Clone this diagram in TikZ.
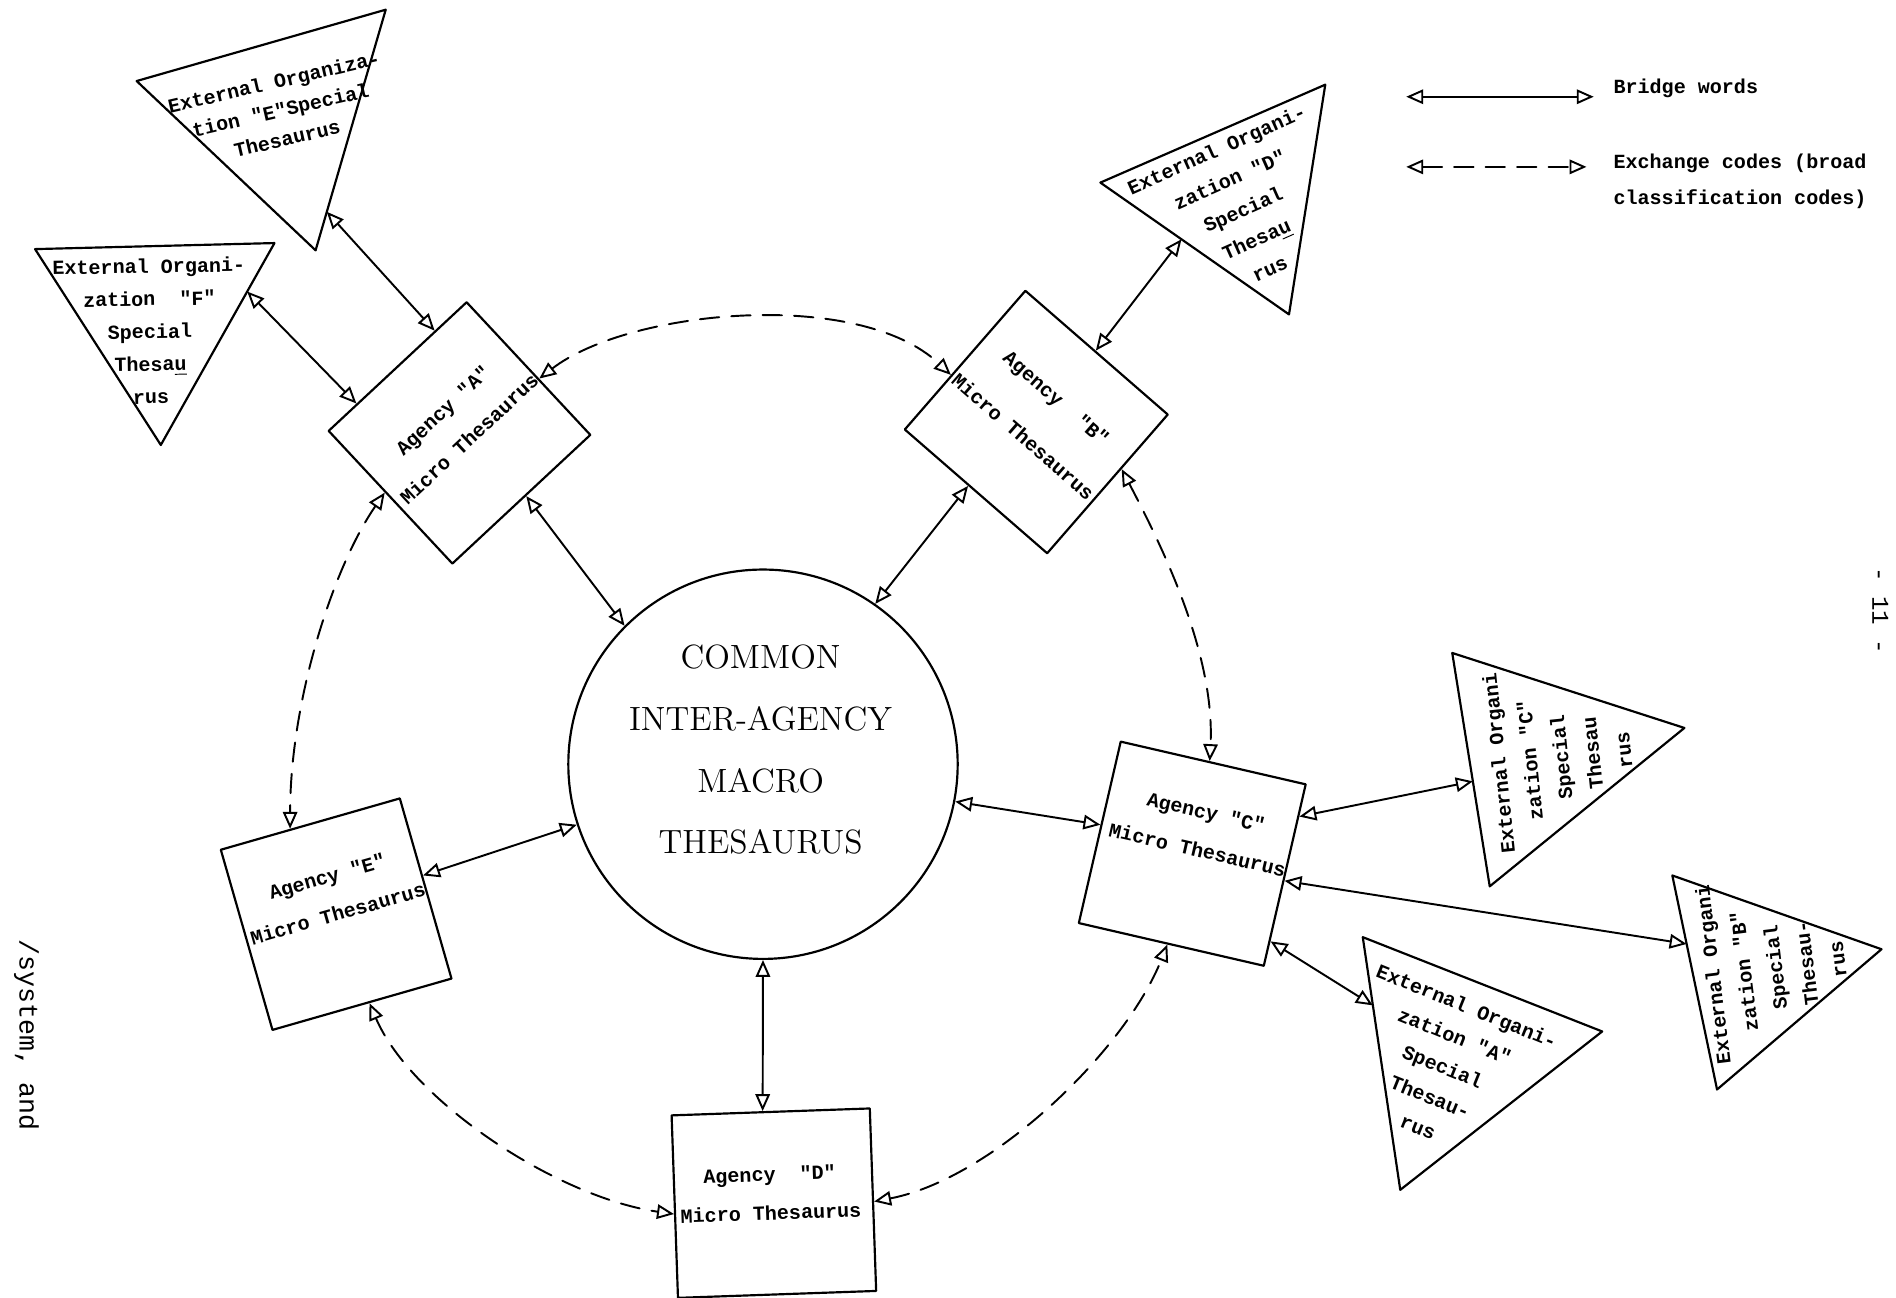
\documentclass[tikz,border=0pt]{standalone}
\usepackage{fontspec}
\setmonofont{Liberation Mono}
\usetikzlibrary{arrows.meta,calc}

\tikzset{
	agency/.style={draw, line width=0.9pt, inner sep=0pt, minimum width=78pt, minimum height=76pt},
	typed/.style={font=\ttfamily\bfseries\fontsize{8.3}{13.5}\selectfont, align=center, inner sep=0pt},
	agtext/.style={typed, font=\ttfamily\bfseries\fontsize{8.3}{16}\selectfont},
	org/.style={line width=0.9pt},
	bridge/.style={line width=0.8pt, {Triangle[open,length=7pt,width=6pt]}-{Triangle[open,length=7pt,width=6pt]}},
	exchange/.style={bridge, dash pattern=on 8pt off 5pt},
	margin/.style={font=\ttfamily\fontsize{11}{13}\selectfont, inner sep=0pt},
}

\begin{document}
\begin{tikzpicture}[
	x=0.5pt,
	y=-0.5pt,
	line join=round,
	line cap=round,
	]
\useasboundingbox (0,0) rectangle (1568,1073);

% common macro thesaurus
\node[draw, circle, line width=0.9pt, minimum size=161pt, inner sep=0pt] (macro) at (631,632) {};
\node[font=\fontsize{13.9}{25.5}\selectfont, align=center] (macro-txt) at (629,620) {COMMON\\INTER-AGENCY\\MACRO\\THESAURUS};

% agency micro thesauri
\node[agency, rotate=43, minimum height=75pt] (agA) at (380,358) {};
\node[agency, rotate=-41] (agB) at (857,349) {};
\node[agency, rotate=-13, minimum width=78.5pt, minimum height=77pt] (agC) at (986,706) {};
\node[agency, rotate=2, minimum width=82pt, minimum height=75.5pt] (agD) at (640,995) {};
\node[agency, rotate=16, minimum width=77pt, minimum height=77.5pt] (agE) at (278,756) {};
\node[agtext, rotate=43] (agA-txt) at (377,351) {Agency "A"\\Micro Thesaurus};
\node[agtext, rotate=-41] (agB-txt) at (860,345) {Agency~~"B"\\[5pt]Micro Thesaurus};
\node[agtext, rotate=-13] (agC-txt) at (994,687) {Agency "C"\\Micro Thesaurus};
\node[agtext, rotate=2] (agD-txt) at (637,987) {Agency~~"D"\\Micro Thesaurus};
\node[agtext, rotate=16] (agE-txt) at (275,740) {Agency "E"\\Micro Thesaurus};

% external organization special thesauri
\coordinate (orgA-1) at (1127,775);
\coordinate (orgA-2) at (1325,853);
\coordinate (orgA-3) at (1158,984);
\coordinate (orgB-1) at (1383,724);
\coordinate (orgB-2) at (1556,785);
\coordinate (orgB-3) at (1420,901);
\coordinate (orgC-1) at (1201,540);
\coordinate (orgC-2) at (1393,602);
\coordinate (orgC-3) at (1232,733);
\coordinate (orgD-1) at (910,151);
\coordinate (orgD-2) at (1096,70);
\coordinate (orgD-3) at (1066,260);
\coordinate (orgE-1) at (113,67);
\coordinate (orgE-2) at (319,8);
\coordinate (orgE-3) at (261,207);
\coordinate (orgF-1) at (29,206);
\coordinate (orgF-2) at (227,201);
\coordinate (orgF-3) at (133,368);
\foreach \t in {A, B, C, D, E, F}
	\draw[org] (org\t-1) -- (org\t-2) -- (org\t-3) -- cycle;
\node[typed, rotate=-22] (orgA) at (1193,882) {External Organi-\\zation "A"\\Special\\Thesau-\\rus};
\node[typed, rotate=97, font=\ttfamily\bfseries\fontsize{8.3}{13}\selectfont] (orgB) at (1468,800) {External Organi\\zation "B"\\Special\\Thesau-\\rus};
\node[typed, rotate=96, font=\ttfamily\bfseries\fontsize{8.3}{13}\selectfont] (orgC) at (1291,626) {External Organi\\zation "C"\\Special\\Thesau\\rus};
\node[typed, rotate=24] (orgD) at (1028,173) {External Organi-\\zation "D"\\Special\\Thesa\underline{u}\\rus};
\node[typed, rotate=13, font=\ttfamily\bfseries\fontsize{8.3}{12}\selectfont] (orgE) at (232,91) {External Organiza-\\tion "E"Special\\Thesaurus};
\node[typed, rotate=1] (orgF) at (124,274) {External Organi-\\zation~~"F"\\Special\\Thesa\underline{u}\\rus};

% bridge words
\draw[bridge] ($(orgE-2)!.84!(orgE-3)$) -- ($(agA.north west)!.77!(agA.north east)$);
\draw[bridge] ($(orgF-2)!.24!(orgF-3)$) -- ($(agA.north west)!.21!(agA.north east)$);
\draw[bridge] ($(orgD-1)!.43!(orgD-3)$) -- ($(agB.north west)!.49!(agB.north east)$);
\draw[bridge] (macro.135) -- ($(agA.south west)!.53!(agA.south east)$);
\draw[bridge] (macro.55) -- ($(agB.south west)!.45!(agB.south east)$);
\draw[bridge] (macro.-11) -- ($(agC.north west)!.46!(agC.south west)$);
\draw[bridge] (macro.198) -- ($(agE.north east)!.43!(agE.south east)$);
\draw[bridge] (macro.-90) -- ($(agD.north west)!.46!(agD.north east)$);
\draw[bridge] ($(agC.north east)!.18!(agC.south east)$) -- ($(orgC-1)!.55!(orgC-3)$);
\draw[bridge] ($(agC.north east)!.53!(agC.south east)$) -- ($(orgB-1)!.32!(orgB-3)$);
\draw[bridge] ($(agC.north east)!.86!(agC.south east)$) -- ($(orgA-1)!.27!(orgA-3)$);

% exchange codes
\draw[exchange] ($(agA.north east)!.58!(agA.south east)$) .. controls (520,256) and (710,238) .. ($(agB.south west)!.39!(agB.north west)$);
\draw[exchange] ($(agA.north west)!.46!(agA.south west)$) .. controls (275,470) and (240,580) .. ($(agE.north west)!.39!(agE.north east)$);
\draw[exchange] ($(agB.north east)!.39!(agB.south east)$) .. controls (960,450) and (1005,540) .. ($(agC.north west)!.48!(agC.north east)$);
\draw[exchange] ($(agE.south west)!.54!(agE.south east)$) .. controls (340,910) and (460,990) .. ($(agD.north west)!.54!(agD.south west)$);
\draw[exchange] ($(agD.north east)!.51!(agD.south east)$) .. controls (820,975) and (930,870) .. ($(agC.south west)!.48!(agC.south east)$);

% key
\coordinate (key-bridge-a) at (1163,80);
\coordinate (key-bridge-b) at (1318,80);
\coordinate (key-exch-a) at (1163,138);
\coordinate (key-exch-b) at (1312,138);
\draw[bridge] (key-bridge-a) -- (key-bridge-b);
\draw[exchange] (key-exch-a) -- (key-exch-b);
\node[typed, anchor=west] (key-bridge) at (1334,73) {Bridge words};
\node[typed, anchor=west, align=left, font=\ttfamily\bfseries\fontsize{8.3}{15}\selectfont] (key-exch) at (1334,150) {Exchange codes (broad\\classification codes)};

% page margin
\node[margin, rotate=-90] (note) at (22,856) {/system, and};
\node[margin, rotate=-90, font=\ttfamily\fontsize{10}{12}\selectfont] (pageno) at (1555,505) {- 11 -};
\end{tikzpicture}
\end{document}
